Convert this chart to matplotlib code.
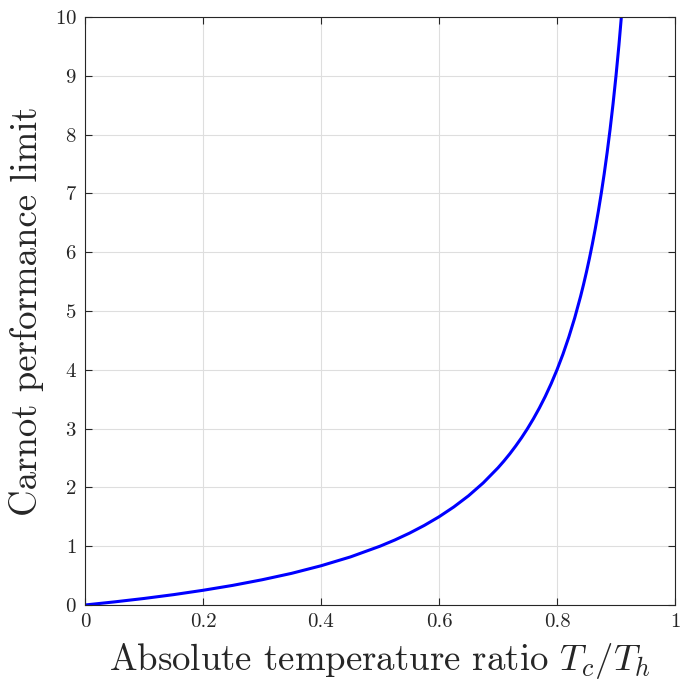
import matplotlib
matplotlib.use("Agg")
import matplotlib.pyplot as plt

# Carnot performance limit
temp_ratio = [0.0, 0.05, 0.1, 0.15, 0.2, 0.25, 0.3, 0.35, 0.4, 0.45, 0.5, 0.525,
              0.55, 0.575, 0.6, 0.625, 0.65, 0.675, 0.7, 0.71, 0.72, 0.73, 0.74,
              0.75, 0.76, 0.77, 0.78, 0.79, 0.8, 0.81, 0.82, 0.83, 0.84, 0.845,
              0.85, 0.855, 0.86, 0.865, 0.87, 0.875, 0.88, 0.885, 0.89, 0.895,
              0.9, 0.905, 0.91]
carnot_limit = [0.0, 0.053, 0.111, 0.176, 0.25, 0.333, 0.429, 0.538, 0.667,
                0.818, 1.0, 1.105, 1.222, 1.353, 1.5, 1.667, 1.857, 2.077, 2.333,
                2.448, 2.571, 2.704, 2.846, 3.0, 3.167, 3.348, 3.545, 3.762, 4.0,
                4.263, 4.556, 4.882, 5.25, 5.452, 5.667, 5.897, 6.143, 6.407,
                6.692, 7.0, 7.333, 7.696, 8.091, 8.524, 9.0, 9.526, 10.11]
xticks = [0, 0.2, 0.4, 0.6, 0.8, 1]
xtick_labels = ["0", "0.2", "0.4", "0.6", "0.8", "1"]
yticks = list(range(0, 11))

plt.rcParams["font.family"] = "serif"
plt.rcParams["font.serif"] = ["cmr10"]
plt.rcParams["mathtext.fontset"] = "cm"
plt.rcParams["axes.formatter.use_mathtext"] = True

fig = plt.figure(figsize=(6.81, 6.83), dpi=100)
ax = fig.add_axes([85 / 681, 1 - 605 / 683, 590 / 681, 588 / 683])

ax.plot(temp_ratio, carnot_limit, color="#0000ff", lw=2.2, solid_capstyle="butt")

ax.set_xlim(0, 1)
ax.set_ylim(0, 10)
ax.set_xticks(xticks)
ax.set_xticklabels(xtick_labels)
ax.set_yticks(yticks)
ax.grid(True, color="#dedede", lw=0.8)
ax.set_axisbelow(True)
ax.tick_params(direction="in", top=True, right=True, length=5, width=0.8,
               labelsize=15, colors="#262626", pad=6)
for s in ax.spines.values():
    s.set_color("#262626")
    s.set_linewidth(0.8)

ax.set_xlabel(r"Absolute temperature ratio $T_c/T_h$", fontsize=26.5, color="#262626", labelpad=7)
ax.set_ylabel("Carnot performance limit", fontsize=26.5, color="#262626", labelpad=8)

fig.savefig("out.png", dpi=100)
